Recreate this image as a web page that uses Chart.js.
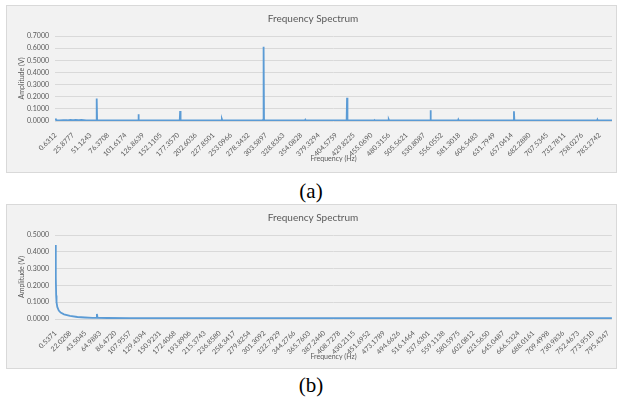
<!DOCTYPE html>
<html>
<head>
<meta charset="utf-8">
<script src="https://cdn.jsdelivr.net/npm/chart.js@4/dist/chart.umd.min.js"></script>
<style>
    body { margin: 0; background: #fff; width: 622px; height: 403px; position: relative; overflow: hidden; }
    .pannello { position: absolute; left: 6px; width: 609px; background: #f2f2f2; border: 1px solid #d9d9d9; }
    #pa { top: 5px; height: 166px; }
    #pb { top: 204px; height: 163px; }
    .didascalia { position: absolute; left: 0; width: 622px; text-align: center; line-height: 21px;
                  font-family: "Liberation Serif", serif; font-size: 21px; color: #000; }
</style>
</head>
<body>
<div class="pannello" id="pa"><canvas id="graficoA"></canvas></div>
<div class="didascalia" style="top:181px">(a)</div>
<div class="pannello" id="pb"><canvas id="graficoB"></canvas></div>
<div class="didascalia" style="top:375px">(b)</div>

<script>
// (a) spectrum: frequency (Hz) and amplitude (V)
const freqA = [0.63, 1.26, 2.5, 6, 12, 18, 22, 26, 30, 34, 38, 45, 52, 59.4, 60.0, 60.6, 75, 90, 105,
    119.4, 120.0, 120.6, 150, 165, 179.4, 180.0, 180.6, 200, 220, 239.4, 240.0, 240.6, 270,
    298.8, 299.4, 300.0, 300.6, 301.2, 330, 359.4, 360.0, 360.6, 390, 410, 419.4, 420.0, 420.6,
    440, 459.4, 460.0, 460.6, 479.4, 480.0, 480.6, 510, 539.4, 540.0, 540.6, 560, 579.4, 580.0, 580.6,
    599.4, 600.0, 600.6, 630, 659.4, 660.0, 660.6, 700, 740, 779.4, 780.0, 780.6, 801];
const ampA = [0.020, 0.012, 0.006, 0.005, 0.007, 0.006, 0.010, 0.008, 0.010, 0.008, 0.009, 0.005, 0.005, 0.006, 0.185, 0.006, 0.004, 0.005, 0.004,
    0.005, 0.055, 0.005, 0.004, 0.005, 0.006, 0.082, 0.006, 0.004, 0.004, 0.005, 0.015, 0.005, 0.004,
    0.006, 0.012, 0.612, 0.012, 0.006, 0.004, 0.004, 0.010, 0.004, 0.004, 0.005, 0.006, 0.192, 0.006,
    0.004, 0.004, 0.006, 0.004, 0.004, 0.012, 0.004, 0.004, 0.005, 0.088, 0.005, 0.004, 0.004, 0.012, 0.004,
    0.004, 0.005, 0.004, 0.004, 0.005, 0.080, 0.005, 0.004, 0.004, 0.004, 0.012, 0.004, 0.004];
const ticksA = ['0.6312', '25.8777', '51.1243', '76.3708', '101.6174', '126.8639', '152.1105', '177.3570',
    '202.6036', '227.8501', '253.0966', '278.3432', '303.5897', '328.8363', '354.0828', '379.3294',
    '404.5759', '429.8225', '455.0690', '480.3156', '505.5621', '530.8087', '556.0552', '581.3018',
    '606.5483', '631.7949', '657.0414', '682.2880', '707.5345', '732.7811', '758.0276', '783.2742'];

// (b) spectrum
const freqB = [0.537, 1.07, 1.61, 2.15, 3.22, 5.37, 8.06, 12.9, 21.5, 32.2, 43.0, 53.7, 59.1, 60.2, 61.2,
    75, 107, 200, 300, 400, 500, 600, 700, 801];
const ampB = [0.440, 0.250, 0.140, 0.100, 0.072, 0.050, 0.038, 0.028, 0.018, 0.012, 0.009, 0.007, 0.007, 0.030, 0.007,
    0.006, 0.005, 0.005, 0.005, 0.005, 0.005, 0.005, 0.005, 0.005];
const ticksB = ['0.5371', '22.0208', '43.5045', '64.9883', '86.4720', '107.9557', '129.4394', '150.9231',
    '172.4068', '193.8906', '215.3743', '236.8580', '258.3417', '279.8254', '301.3092', '322.7929',
    '344.2766', '365.7603', '387.2440', '408.7278', '430.2115', '451.6952', '473.1789', '494.6626',
    '516.1464', '537.6301', '559.1138', '580.5975', '602.0812', '623.5650', '645.0487', '666.5324',
    '688.0161', '709.4998', '730.9836', '752.4673', '773.9510', '795.4347'];

const grigio = '#595959';

function creaGrafico(id, freq, amp, etichette, xMax, yMax, yStep, padBasso) {
    const punti = freq.map((f, i) => ({ x: f, y: amp[i] }));
    const valoriTick = etichette.map(t => parseFloat(t));
    new Chart(document.getElementById(id), {
        type: 'line',
        data: {
            datasets: [{
                data: punti,
                borderColor: '#5b9bd5',
                borderWidth: 1.8,
                pointRadius: 0,
                tension: 0,
                fill: false
            }]
        },
        options: {
            responsive: true,
            maintainAspectRatio: false,
            animation: false,
            layout: { padding: { left: 7, right: 4, top: 0, bottom: padBasso } },
            plugins: {
                legend: { display: false },
                tooltip: { enabled: false },
                title: {
                    display: true, text: 'Frequency Spectrum', color: grigio,
                    font: { family: 'Lato', size: 10, weight: 'normal' },
                    padding: { top: 7, bottom: 11 }
                }
            },
            scales: {
                x: {
                    type: 'linear',
                    min: valoriTick[0] - 0.6,
                    max: xMax,
                    grid: { display: false },
                    border: { display: false },
                    afterBuildTicks: scale => { scale.ticks = valoriTick.map(v => ({ value: v })); },
                    afterFit: scale => { scale.height = 46; },
                    ticks: {
                        autoSkip: false, minRotation: 45, maxRotation: 45, padding: 2,
                        color: grigio, font: { family: 'Lato', size: 7 },
                        callback: (v, i) => etichette[i]
                    },
                    title: { display: true, text: 'Frequency (Hz)', color: grigio, font: { family: 'Lato', size: 7 } }
                },
                y: {
                    min: 0, max: yMax,
                    grid: { color: '#d9d9d9', drawTicks: false },
                    border: { display: false },
                    afterFit: scale => { scale.width = 41; },
                    ticks: {
                        stepSize: yStep, padding: 6,
                        color: grigio, font: { family: 'Lato', size: 7 },
                        callback: v => v.toFixed(4)
                    },
                    title: { display: true, text: 'Amplitude (V)', color: grigio, font: { family: 'Lato', size: 7 } }
                }
            }
        }
    });
}

creaGrafico('graficoA', freqA, ampA, ticksA, 801, 0.7, 0.1, 5);
creaGrafico('graficoB', freqB, ampB, ticksB, 801, 0.5, 0.05, 3);
</script>
</body>
</html>
